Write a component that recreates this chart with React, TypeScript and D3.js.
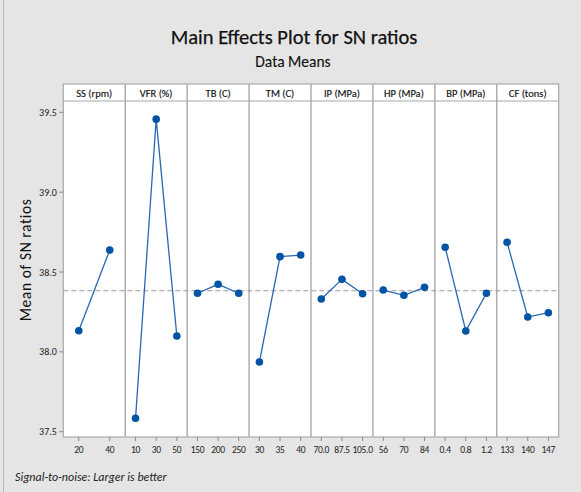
import React from "react";
import * as d3 from "d3";

const factors = ["SS (rpm)", "VFR (%)", "TB (C)", "TM (C)", "IP (MPa)", "HP (MPa)", "BP (MPa)", "CF (tons)"];
const levelLabels = [
  ["20", "40"],
  ["10", "30", "50"],
  ["150", "200", "250"],
  ["30", "35", "40"],
  ["70.0", "87.5", "105.0"],
  ["56", "70", "84"],
  ["0.4", "0.8", "1.2"],
  ["133", "140", "147"],
];
const levelMeans = [
  [38.132, 38.637],
  [37.584, 39.457, 38.099],
  [38.367, 38.423, 38.367],
  [37.936, 38.596, 38.606],
  [38.331, 38.454, 38.364],
  [38.387, 38.354, 38.404],
  [38.655, 38.131, 38.367],
  [38.686, 38.218, 38.245],
];
const yTicks = [37.5, 38.0, 38.5, 39.0, 39.5];

const W = 581;
const H = 492;
const plotLeft = 63.3;
const plotRight = 558.7;
const headerTop = 84;
const plotTop = 101;
const plotBottom = 437;

const FONT = "Carlito, 'Liberation Sans Narrow', 'Open Sans', sans-serif";
const lineColor = "#2a67b1";
const markColor = "#0054a6";

export default function App() {
  const panel = d3.scaleBand<string>().domain(factors).range([plotLeft, plotRight]).paddingInner(0).paddingOuter(0);
  const y = d3.scaleLinear().domain([37.5, 39.5]).range([431.7, 112.3]);
  const grandMean = d3.mean(levelMeans.map((m) => d3.mean(m) as number)) as number;
  const bw = panel.bandwidth();
  const lineGen = d3.line<[number, number]>().x((d) => d[0]).y((d) => d[1]);

  return (
    <svg width={W} height={H} style={{ position: "absolute", left: 0, top: 0 }} fontFamily={FONT}>
      <rect x={0} y={0} width={W} height={H} fill="#e5e5e5" />
      <line x1={3.5} x2={3.5} y1={0} y2={H} stroke="#b5b5b5" />
      <text x={294} y={44} textAnchor="middle" fontSize={20.5} fontWeight={500} fill="#111" stroke="#111" strokeWidth={0.25}>
        Main Effects Plot for SN ratios
      </text>
      <text x={293} y={67} textAnchor="middle" fontSize={15.5} fill="#111" stroke="#111" strokeWidth={0.15}>
        Data Means
      </text>
      {/* header strip and plot area */}
      <rect x={plotLeft} y={headerTop} width={plotRight - plotLeft} height={plotBottom - headerTop} fill="#fff" stroke="#a8a8a8" strokeWidth={1.2} />
      <line x1={plotLeft} x2={plotRight} y1={plotTop} y2={plotTop} stroke="#a8a8a8" strokeWidth={1.2} />
      {factors.map((f, i) => {
        const x0 = panel(f) as number;
        return (
          <g key={f}>
            {i > 0 && <line x1={x0} x2={x0} y1={headerTop} y2={plotBottom} stroke="#a8a8a8" strokeWidth={1.4} />}
            <text x={x0 + bw / 2} y={96.5} textAnchor="middle" fontSize={10.5} fill="#111" stroke="#111" strokeWidth={0.15}>
              {f}
            </text>
          </g>
        );
      })}
      {/* reference line */}
      <line x1={plotLeft} x2={plotRight} y1={y(grandMean)} y2={y(grandMean)} stroke="#9a9a9a" strokeWidth={1} strokeDasharray="5,3" />
      {/* y axis */}
      {yTicks.map((t) => (
        <g key={t}>
          <line x1={plotLeft - 4} x2={plotLeft} y1={y(t)} y2={y(t)} stroke="#888" />
          <text x={plotLeft - 6.5} y={y(t) + 3.5} textAnchor="end" fontSize={10} fill="#222">
            {t.toFixed(1)}
          </text>
        </g>
      ))}
      <text transform={`translate(31,${260}) rotate(-90)`} textAnchor="middle" fontSize={15.5} letterSpacing={0.6} fill="#111">
        Mean of SN ratios
      </text>
      {/* panels */}
      {factors.map((f, i) => {
        const x0 = panel(f) as number;
        const xs = d3.scalePoint<string>().domain(levelLabels[i]).range([x0, x0 + bw]).padding(0.5);
        const pts: [number, number][] = levelLabels[i].map((l, j) => [xs(l) as number, y(levelMeans[i][j])]);
        return (
          <g key={f}>
            <path d={lineGen(pts) as string} fill="none" stroke={lineColor} strokeWidth={1.3} />
            {pts.map((p, j) => (
              <circle key={j} cx={p[0]} cy={p[1]} r={3.8} fill={markColor} />
            ))}
            {levelLabels[i].map((l) => (
              <g key={l}>
                <line x1={xs(l) as number} x2={xs(l) as number} y1={plotBottom} y2={plotBottom + 4} stroke="#888" />
                <text x={xs(l) as number} y={453} textAnchor="middle" fontSize={9.5} letterSpacing={-0.3} fill="#222">
                  {l}
                </text>
              </g>
            ))}
          </g>
        );
      })}
      <text x={15} y={480.5} fontSize={12} fontStyle="italic" fill="#222">
        Signal-to-noise: Larger is better
      </text>
    </svg>
  );
}
